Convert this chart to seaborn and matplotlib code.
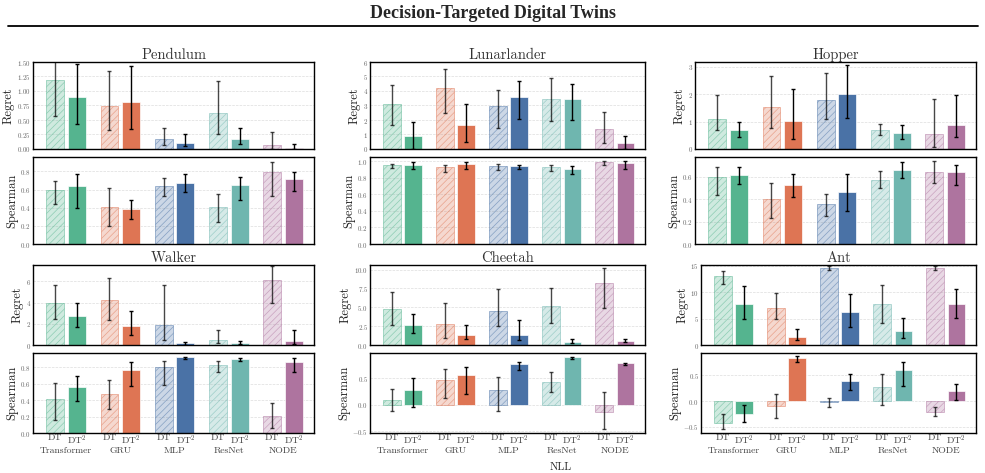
import numpy as np
import pandas as pd
import matplotlib.pyplot as plt
import seaborn as sns
from matplotlib.colors import to_rgba
from matplotlib.lines import Line2D

MODELS = ["Transformer", "GRU", "MLP", "ResNet", "NODE"]
VARIANTS = ["DT", "DT$^2$"]
COLORS = ["#55B48F", "#DE7554", "#4A72A6", "#6FB6AF", "#AE749F"]
ENVS = ["Pendulum", "Lunarlander", "Hopper", "Walker", "Cheetah", "Ant"]

# one row per model: DT mean, DT low, DT high, DT^2 mean, DT^2 low, DT^2 high
PENDULUM_REGRET = [
    [1.195, 0.575, 1.82, 0.897, 0.437, 1.47],
    [0.747, 0.322, 1.34, 0.805, 0.351, 1.43],
    [0.172, 0.075, 0.362, 0.103, 0.046, 0.264],
    [0.620, 0.259, 1.167, 0.178, 0.080, 0.356],
    [0.069, 0.006, 0.287, 0.017, 0.000, 0.080],
]
PENDULUM_SPEARMAN = [
    [0.591, 0.440, 0.700, 0.635, 0.400, 0.770],
    [0.407, 0.200, 0.613, 0.385, 0.275, 0.488],
    [0.642, 0.532, 0.730, 0.672, 0.572, 0.774],
    [0.407, 0.246, 0.550, 0.650, 0.484, 0.741],
    [0.793, 0.525, 0.910, 0.712, 0.587, 0.796],
]
LUNAR_REGRET = [
    [3.09, 1.64, 4.41, 0.90, 0.00, 1.85],
    [4.23, 2.45, 5.54, 1.64, 0.46, 3.09],
    [2.98, 1.48, 4.06, 3.60, 2.08, 4.69],
    [3.46, 1.92, 4.90, 3.42, 1.99, 4.46],
    [1.39, 0.42, 2.54, 0.42, 0.00, 0.88],
]
LUNAR_SPEARMAN = [
    [0.950, 0.920, 0.968, 0.950, 0.910, 0.984],
    [0.928, 0.870, 0.950, 0.964, 0.900, 0.984],
    [0.940, 0.890, 0.960, 0.940, 0.900, 0.948],
    [0.928, 0.880, 0.948, 0.900, 0.850, 0.936],
    [0.984, 0.950, 1.000, 0.976, 0.900, 1.000],
]
HOPPER_REGRET = [
    [1.10, 0.71, 1.98, 0.695, 0.44, 0.98],
    [1.54, 0.77, 2.66, 1.04, 0.37, 2.18],
    [1.79, 1.10, 2.78, 2.02, 1.15, 3.06],
    [0.695, 0.52, 0.91, 0.585, 0.37, 0.87],
    [0.55, 0.06, 1.84, 0.88, 0.43, 1.98],
]
HOPPER_SPEARMAN = [
    [0.597, 0.440, 0.686, 0.618, 0.535, 0.690],
    [0.398, 0.232, 0.546, 0.526, 0.419, 0.627],
    [0.353, 0.247, 0.443, 0.466, 0.291, 0.627],
    [0.570, 0.502, 0.647, 0.659, 0.591, 0.728],
    [0.644, 0.546, 0.737, 0.639, 0.526, 0.704],
]
WALKER_REGRET = [
    [3.95, 2.41, 5.70, 2.76, 1.66, 4.01],
    [4.23, 2.35, 6.30, 1.79, 0.91, 3.17],
    [1.91, 0.50, 5.64, 0.16, 0.03, 0.31],
    [0.47, 0.19, 1.38, 0.16, 0.06, 0.38],
    [6.11, 3.95, 7.43, 0.41, 0.09, 1.38],
]
WALKER_SPEARMAN = [
    [0.416, 0.154, 0.610, 0.553, 0.392, 0.690],
    [0.469, 0.287, 0.642, 0.768, 0.574, 0.860],
    [0.796, 0.586, 0.873, 0.917, 0.897, 0.925],
    [0.828, 0.739, 0.873, 0.897, 0.877, 0.905],
    [0.202, 0.060, 0.364, 0.857, 0.743, 0.905],
]
CHEETAH_REGRET = [
    [4.74, 2.68, 7.06, 2.68, 1.58, 4.17],
    [2.81, 0.96, 5.61, 1.36, 0.79, 2.63],
    [4.56, 2.50, 7.41, 1.32, 0.70, 3.33],
    [5.13, 2.89, 7.59, 0.44, 0.26, 0.83],
    [8.16, 4.87, 10.22, 0.57, 0.44, 0.75],
]
CHEETAH_SPEARMAN = [
    [0.083, -0.120, 0.300, 0.280, -0.050, 0.500],
    [0.478, 0.120, 0.680, 0.567, 0.210, 0.720],
    [0.274, -0.110, 0.520, 0.770, 0.660, 0.815],
    [0.440, 0.236, 0.618, 0.898, 0.860, 0.910],
    [-0.146, -0.465, 0.242, 0.783, 0.758, 0.800],
]
ANT_REGRET = [
    [12.93, 11.55, 13.94, 7.78, 4.83, 11.05],
    [6.97, 4.83, 9.79, 1.57, 0.88, 2.95],
    [14.50, 14.19, 14.94, 6.28, 3.39, 9.60],
    [7.78, 4.14, 11.24, 2.70, 1.26, 5.15],
    [14.50, 14.19, 14.94, 7.78, 5.15, 10.48],
]
ANT_SPEARMAN = [
    [-0.425, -0.550, -0.260, -0.242, -0.405, -0.085],
    [-0.092, -0.333, 0.144, 0.837, 0.758, 0.869],
    [-0.013, -0.124, 0.059, 0.392, 0.222, 0.529],
    [0.268, -0.072, 0.529, 0.595, 0.294, 0.752],
    [-0.209, -0.288, -0.118, 0.190, 0.013, 0.340],
]

REGRET = [PENDULUM_REGRET, LUNAR_REGRET, HOPPER_REGRET,
          WALKER_REGRET, CHEETAH_REGRET, ANT_REGRET]
SPEARMAN = [PENDULUM_SPEARMAN, LUNAR_SPEARMAN, HOPPER_SPEARMAN,
            WALKER_SPEARMAN, CHEETAH_SPEARMAN, ANT_SPEARMAN]

REGRET_TICKS = [
    [0, 0.25, 0.5, 0.75, 1.0, 1.25, 1.5],
    [0, 1, 2, 3, 4, 5, 6],
    [0, 1, 2, 3],
    [0, 2, 4, 6],
    [0, 2.5, 5.0, 7.5, 10.0],
    [0, 5, 10, 15],
]
SPEARMAN_TICKS = [
    [0, 0.2, 0.4, 0.6, 0.8],
    [0, 0.2, 0.4, 0.6, 0.8, 1.0],
    [0, 0.2, 0.4, 0.6],
    [0, 0.2, 0.4, 0.6, 0.8],
    [-0.5, 0.0, 0.5],
    [-0.5, 0.0, 0.5],
]
REGRET_YLIM = [(0, 1.5), (0, 6.0), (0, 3.18), (0, 7.55), (0, 10.6), (0, 15.1)]
SPEARMAN_YLIM = [(0, 0.96), (0, 1.05), (0, 0.775), (0, 0.97),
                 (-0.535, 0.98), (-0.62, 0.935)]

W, H = 985, 473
# pixel boxes (left, top, right, bottom) for regret / spearman axes
COL_X = [[(33, 314), (370, 645), (695, 976)],
         [(33, 314), (370, 645), (701, 976)]]
ROW_Y = [[(62, 149), (157, 244)], [(265, 345), (353, 433)]]

sns.set_style("white")
plt.rcParams["font.family"] = ["cmr10", "DejaVu Serif"]
plt.rcParams["mathtext.fontset"] = "cm"
plt.rcParams["axes.formatter.use_mathtext"] = True
plt.rcParams["axes.unicode_minus"] = True
plt.rcParams["hatch.linewidth"] = 0.5


def box(l, t, r, b):
    return [l / W, 1 - b / H, (r - l) / W, (b - t) / H]


def draw_metric(ax, rows, ylim, yticks, ylabel, bottom_labels):
    rows = np.asarray(rows, dtype=float)
    df = pd.DataFrame({
        "model": MODELS * 2,
        "variant": [VARIANTS[0]] * len(MODELS) + [VARIANTS[1]] * len(MODELS),
        "value": np.r_[rows[:, 0], rows[:, 3]],
    })
    sns.barplot(data=df, x="model", y="value", hue="variant", order=MODELS,
                hue_order=VARIANTS, width=0.8, gap=0.175, errorbar=None,
                legend=False, ax=ax)
    bar_sets = list(ax.containers)[:2]
    centers = []
    for k, container in enumerate(bar_sets):
        mean, lo, hi = rows[:, 3 * k], rows[:, 3 * k + 1], rows[:, 3 * k + 2]
        xs = []
        for bar, c in zip(container, COLORS):
            if k == 0:
                bar.set_facecolor(to_rgba(c, 0.28))
                bar.set_edgecolor(to_rgba(c, 0.55))
                bar.set_hatch("/////")
                bar.set_linewidth(0.6)
            else:
                bar.set_facecolor(c)
                bar.set_edgecolor(to_rgba("white", 0.8))
                bar.set_linewidth(0.6)
            xs.append(bar.get_x() + bar.get_width() / 2)
        centers.extend(xs)
        ax.errorbar(xs, mean, yerr=[mean - lo, hi - mean], fmt="none",
                    ecolor="black", elinewidth=1.0, capsize=1.6, capthick=1.0,
                    alpha=0.72 if k == 0 else 1.0, zorder=5)

    ax.set_xlim(-0.61, 4.57)
    ax.set_ylim(*ylim)
    ax.set_yticks(yticks)
    ax.set_axisbelow(True)
    ax.yaxis.grid(True, linestyle="--", color="#dddddd", linewidth=0.5)
    ax.xaxis.grid(False)
    ax.set_ylabel(ylabel, fontsize=9, color="#222222", labelpad=1.5)
    ax.set_xlabel("")
    ax.tick_params(axis="y", labelsize=5, labelcolor="#666666", length=0, pad=1.5)
    for s in ax.spines.values():
        s.set_color("black")
        s.set_linewidth(1.0)

    if bottom_labels:
        order = np.argsort(centers)
        labels = [VARIANTS[0]] * len(MODELS) + [VARIANTS[1]] * len(MODELS)
        ax.set_xticks(np.asarray(centers)[order],
                      [labels[i] for i in order])
        ax.tick_params(axis="x", labelsize=7, labelcolor="#444444",
                       length=0, pad=0.5)
        sec = ax.secondary_xaxis("bottom")
        sec.set_xticks(range(len(MODELS)), MODELS)
        sec.tick_params(length=0, pad=9.5, labelsize=7, labelcolor="#444444")
        sec.spines["bottom"].set_visible(False)
    else:
        ax.set_xticks([])


fig = plt.figure(figsize=(W / 100, H / 100), dpi=100)
for i, env in enumerate(ENVS):
    row, col = divmod(i, 3)
    xl, xr = COL_X[row][col]
    (rt, rb), (st, sb) = ROW_Y[row]
    ax_r = fig.add_axes(box(xl, rt, xr, rb))
    ax_s = fig.add_axes(box(xl, st, xr, sb))
    draw_metric(ax_r, REGRET[i], REGRET_YLIM[i], REGRET_TICKS[i], "Regret", False)
    draw_metric(ax_s, SPEARMAN[i], SPEARMAN_YLIM[i], SPEARMAN_TICKS[i],
                "Spearman", row == 1)
    ax_r.set_title(env, fontsize=10.5, color="#333333", pad=2.5)

fig.text(0.5, 1 - 14 / H, "Decision-Targeted Digital Twins",
         family="Liberation Serif", weight="bold", fontsize=13,
         ha="center", va="center")
fig.add_artist(Line2D([8 / W, 978 / W], [1 - 26 / H, 1 - 26 / H],
                      color="black", linewidth=1.3))
fig.text(561 / W, 1 / H, "NLL", fontsize=8, ha="center", va="bottom")

fig.savefig("out.png", dpi=100)
